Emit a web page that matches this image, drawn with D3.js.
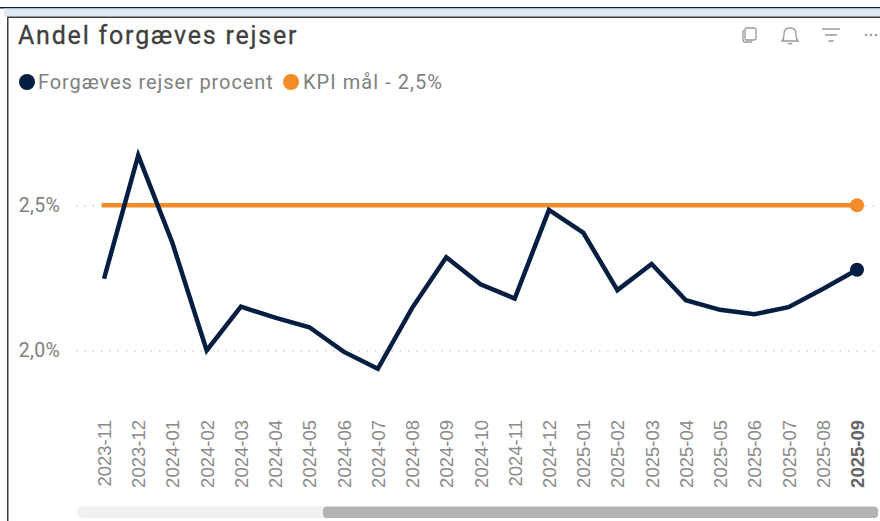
<!DOCTYPE html>
<html>
<head>
<meta charset="utf-8">
<script src="https://cdn.jsdelivr.net/npm/d3@7/dist/d3.min.js"></script>
<style>
  html, body { margin: 0; padding: 0; background: #fff; }
  svg { display: block; }
  text { font-family: Roboto, sans-serif; }
</style>
</head>
<body>
<div id="chart"></div>
<script>
// values
var months = ["2023-11","2023-12","2024-01","2024-02","2024-03","2024-04","2024-05","2024-06",
  "2024-07","2024-08","2024-09","2024-10","2024-11","2024-12","2025-01","2025-02","2025-03",
  "2025-04","2025-05","2025-06","2025-07","2025-08","2025-09"];
var forgaeves = [2.247,2.672,2.37,2.0,2.151,2.113,2.08,1.996,1.937,2.146,2.321,2.228,2.179,
  2.484,2.406,2.208,2.298,2.173,2.14,2.125,2.149,2.212,2.278];
var kpi = months.map(function() { return 2.5; });
var yTicks = [2.0, 2.5];
var legendLabels = ["Forgæves rejser procent", "KPI mål - 2,5%"];
var navy = "#041e42", orange = "#f28c28", grey = "#808080";

var width = 880, height = 521;
var svg = d3.select("#chart").append("svg").attr("width", width).attr("height", height);

// window chrome around the visual
svg.append("rect").attr("x", 0).attr("y", 7).attr("width", width).attr("height", 1.5).attr("fill", "#10203a");
svg.append("rect").attr("x", 4).attr("y", 8.5).attr("width", width - 4).attr("height", 8).attr("fill", "#dfe9f1");
svg.append("rect").attr("x", 7).attr("y", 16.5).attr("width", width - 7).attr("height", 1.5).attr("fill", "#3c3c3c");
svg.append("rect").attr("x", 7).attr("y", 17).attr("width", 1.5).attr("height", height - 17).attr("fill", "#3c3c3c");

svg.append("text").attr("x", 18).attr("y", 44).attr("font-size", 25).attr("font-weight", 400)
  .attr("letter-spacing", 1.8).attr("stroke", "#404040").attr("stroke-width", 0.3)
  .attr("fill", "#404040").text("Andel forgæves rejser");

// header icons
var icons = svg.append("g").attr("fill", "none").attr("stroke", "#999").attr("stroke-width", 1.3);
icons.append("path").attr("d", "M743 30v10q0 2 2 2h7M746 28h8q2 0 2 2v8q0 2-2 2h-8q-1 0-1-2v-8q0-2 1-2z");
icons.append("path").attr("d", "M782 41q2-2 2-6v-1q0-6 6-6t6 6v1q0 4 2 6zM788 43q2 2 4 0");
icons.append("path").attr("d", "M822 29h18M825 35h12M828.500 41h5");
svg.append("g").attr("fill", "#a0a0a0").selectAll("circle").data([866, 871, 876]).enter().append("circle")
  .attr("cx", function(d) { return d; }).attr("cy", 35).attr("r", 1.300);

// legend
var legendX = [27, 291];
var legend = svg.append("g").selectAll("g").data(legendLabels).enter().append("g");
legend.append("circle").attr("cx", function(d, i) { return legendX[i]; }).attr("cy", 82).attr("r", 8)
  .attr("fill", function(d, i) { return i == 0 ? navy : orange; });
legend.append("text").attr("x", function(d, i) { return legendX[i] + 11 + i; }).attr("y", 89)
  .attr("font-size", 20).attr("letter-spacing", function(d, i) { return i == 0 ? 0.9 : 1.05; })
  .attr("fill", grey).text(function(d) { return d; });

var x = d3.scalePoint().domain(months).range([104, 857]);
var y = d3.scaleLinear().domain([2.0, 2.5]).range([350.5, 205.3]);

// y axis with dotted gridlines
var yAxis = svg.append("g").attr("transform", "translate(76,0)")
  .call(d3.axisLeft(y).tickValues(yTicks).tickSize(0).tickPadding(16)
    .tickFormat(function(d) { return d3.format(".1f")(d).replace(".", ",") + "%"; }));
yAxis.select(".domain").remove();
yAxis.selectAll("text").attr("font-size", 19.5).attr("letter-spacing", 0.3).attr("fill", grey)
  .style("font-family", "Roboto, sans-serif");
yAxis.selectAll("line").attr("x1", 0).attr("x2", 804).attr("stroke", "#cfcfcf")
  .attr("stroke-width", 1.500).attr("stroke-dasharray", "1.500 6.800");

// x axis, rotated labels
var xAxis = svg.append("g").attr("transform", "translate(0,418)")
  .call(d3.axisBottom(x).tickSize(0).tickPadding(0));
xAxis.select(".domain").remove();
xAxis.selectAll("text")
  .attr("transform", "rotate(-90)").attr("x", -2).attr("y", 0).attr("dy", 0)
  .attr("text-anchor", "end").attr("dominant-baseline", "central")
  .attr("font-size", 18.5).style("font-family", "'Liberation Sans', sans-serif")
  .attr("font-weight", function(d, i) { return i == months.length - 1 ? "bold" : "normal"; })
  .attr("fill", function(d, i) { return i == months.length - 1 ? "#666" : "#8a8a8a"; });

// series
var line = d3.line().x(function(d, i) { return x(months[i]); }).y(function(d) { return y(d); });
svg.append("path").datum(kpi).attr("d", line).attr("fill", "none").attr("stroke", orange)
  .attr("stroke-width", 4.5).attr("stroke-linecap", "square");
svg.append("path").datum(forgaeves).attr("d", line).attr("fill", "none").attr("stroke", navy)
  .attr("stroke-width", 4.5).attr("stroke-linejoin", "miter");

// end markers on the latest month
var last = months.length - 1;
svg.append("circle").attr("cx", x(months[last])).attr("cy", y(kpi[last])).attr("r", 7).attr("fill", orange);
svg.append("circle").attr("cx", x(months[last])).attr("cy", y(forgaeves[last])).attr("r", 7).attr("fill", navy);

// scrollbar
svg.append("rect").attr("x", 77).attr("y", 506.500).attr("width", 260).attr("height", 11.5).attr("rx", 5.75).attr("fill", "#f0f0f0");
svg.append("rect").attr("x", 323).attr("y", 506.500).attr("width", 555).attr("height", 11.5).attr("rx", 4).attr("fill", "#b3b3b3");
</script>
</body>
</html>
